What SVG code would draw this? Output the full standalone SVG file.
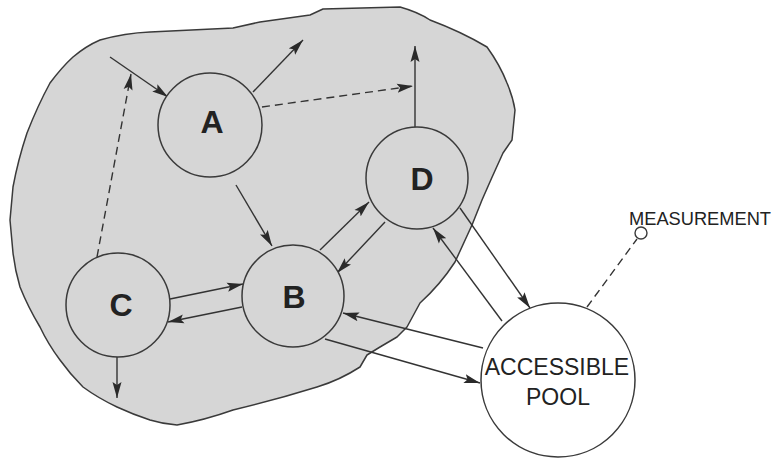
<svg xmlns="http://www.w3.org/2000/svg" width="782" height="458" viewBox="0 0 782 458">
<style>
.node{fill:#d6d6d6;stroke:#3a3a3a;stroke-width:1.5}
.lbl{font-family:"Liberation Sans",Arial,sans-serif;font-weight:bold;font-size:32px;fill:#222;text-anchor:middle}
.txt{font-family:"Liberation Sans",Arial,sans-serif;font-size:23px;fill:#222;text-anchor:middle}
.c{stroke:#333;stroke-width:1.4;fill:none}
.d{stroke-dasharray:8,5}
</style>
<defs>
<marker id="ah" markerUnits="userSpaceOnUse" markerWidth="17" markerHeight="10" refX="16" refY="5" orient="auto">
<path d="M0,0.5 L16,5 L0,9.5 L3,5 z" fill="#2a2a2a"/>
</marker>
</defs>
<rect width="782" height="458" fill="#fff"/>
<path id="region" d="M10,220 L13,187 Q18,160 27,133 Q38,105 50,83 Q62,67 73,57 Q86,46 100,40 Q125,33 150,32 L233,28 L260,22 L310,15 L323,9 L400,7 Q418,12 430,20 Q462,32 487,47 Q500,65 507,83 Q513,97 515,110 L512,140 L503,153 Q492,177 482,200 L472,225 L455,262 Q440,285 420,303 L407,327 L397,337 L380,347 L367,355 L360,367 Q340,380 317,387 Q275,400 233,410 Q205,420 177,425 Q163,424 150,420 Q132,414 117,407 Q98,398 83,387 Q70,374 60,360 Q48,344 40,327 Q28,307 20,287 Q15,270 13,253 Z" fill="#d6d6d6" stroke="#3a3a3a" stroke-width="1.5" stroke-linejoin="round"/>
<g id="connectors">
<line class="c" x1="110" y1="57" x2="168" y2="97" marker-end="url(#ah)"/>
<line class="c" x1="253" y1="92" x2="303" y2="40" marker-end="url(#ah)"/>
<line class="c d" x1="262" y1="107" x2="413" y2="86" marker-end="url(#ah)"/>
<line class="c" x1="415" y1="127" x2="415" y2="46" marker-end="url(#ah)"/>
<line class="c d" x1="97" y1="257" x2="131" y2="74" marker-end="url(#ah)"/>
<line class="c" x1="236" y1="185" x2="272" y2="246" marker-end="url(#ah)"/>
<line class="c" x1="320" y1="250" x2="369" y2="202" marker-end="url(#ah)"/>
<line class="c" x1="385" y1="222" x2="337" y2="273" marker-end="url(#ah)"/>
<line class="c" x1="170" y1="299" x2="243" y2="284" marker-end="url(#ah)"/>
<line class="c" x1="242" y1="307" x2="168" y2="322" marker-end="url(#ah)"/>
<line class="c" x1="117" y1="357" x2="117" y2="398" marker-end="url(#ah)"/>
<line class="c" x1="483" y1="348" x2="343" y2="313" marker-end="url(#ah)"/>
<line class="c" x1="325" y1="339" x2="480" y2="383" marker-end="url(#ah)"/>
<line class="c" x1="502" y1="321" x2="433" y2="228" marker-end="url(#ah)"/>
<line class="c" x1="460" y1="208" x2="530" y2="308" marker-end="url(#ah)"/>
<line class="c d" x1="587" y1="307" x2="637" y2="239"/>
</g>
<g id="A"><circle class="node" cx="210" cy="125" r="52"/><text class="lbl" x="212" y="133">A</text></g>
<g id="B"><circle class="node" cx="293" cy="296" r="51"/><text class="lbl" x="294" y="308">B</text></g>
<g id="C"><circle class="node" cx="118" cy="305" r="52"/><text class="lbl" x="121" y="316">C</text></g>
<g id="D"><circle class="node" cx="417" cy="178" r="51"/><text class="lbl" x="422" y="190">D</text></g>
<g id="pool"><circle cx="558" cy="380" r="77" fill="#fff" stroke="#3a3a3a" stroke-width="1.5"/><text class="txt" x="557" y="375">ACCESSIBLE</text><text class="txt" x="558" y="405">POOL</text></g>
<g id="measurement"><circle cx="641" cy="233" r="6" fill="#fff" stroke="#3a3a3a" stroke-width="1.4"/><text x="629" y="225" font-family="'Liberation Sans',Arial,sans-serif" font-size="19" fill="#222" textLength="142" lengthAdjust="spacingAndGlyphs">MEASUREMENT</text></g>
</svg>
